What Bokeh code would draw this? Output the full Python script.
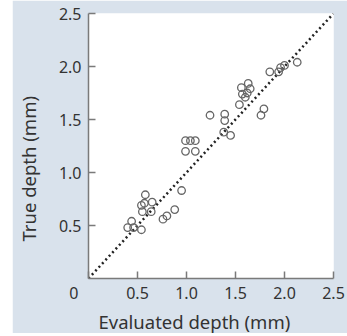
from bokeh.plotting import figure
from bokeh.layouts import row
from bokeh.models import Range1d, FixedTicker, CustomJSTickFormatter, Title, Spacer
from bokeh.embed import file_html
from bokeh.resources import INLINE

# Data (evaluated depth vs true depth, mm)
evaluated = [0.40, 0.44, 0.46, 0.54, 0.54, 0.55, 0.57, 0.58, 0.64, 0.65,
             0.76, 0.80, 0.88, 0.95,
             0.99, 1.04, 1.09, 0.99, 1.09,
             1.24, 1.39, 1.39, 1.38, 1.45,
             1.54, 1.56, 1.57, 1.60, 1.62, 1.63, 1.65,
             1.76, 1.79,
             1.85, 1.94, 1.96, 2.00, 2.13]
true_depth = [0.48, 0.54, 0.48, 0.46, 0.69, 0.63, 0.71, 0.79, 0.63, 0.72,
              0.56, 0.59, 0.65, 0.83,
              1.30, 1.30, 1.30, 1.20, 1.20,
              1.54, 1.55, 1.49, 1.38, 1.35,
              1.64, 1.80, 1.74, 1.71, 1.75, 1.84, 1.79,
              1.54, 1.60,
              1.95, 1.95, 1.99, 2.01, 2.04]
line_x = [0.0, 2.5]
line_y = [0.0, 2.5]
x_ticks = [0.0, 0.5, 1.0, 1.5, 2.0, 2.5]
y_ticks = [0.5, 1.0, 1.5, 2.0, 2.5]
x_label = "Evaluated depth (mm)"
y_label = "True depth (mm)"

FONT = "Noto Sans"
TXT = "#333333"
BG = "#d9e2ec"

p = figure(width=335, height=333, output_backend="svg", toolbar_location=None,
           x_range=Range1d(0, 2.5), y_range=Range1d(0, 2.5),
           min_border_left=73, min_border_right=14, min_border_top=13, min_border_bottom=55)
p.border_fill_color = BG
p.background_fill_color = "white"
p.outline_line_color = None
p.xgrid.visible = False
p.ygrid.visible = False

fmt = CustomJSTickFormatter(
    code="return tick == 0 ? '0' + '\\u00a0'.repeat(7) : tick.toFixed(1);")
for ax, ticks in ((p.xaxis[0], x_ticks), (p.yaxis[0], y_ticks)):
    ax.ticker = FixedTicker(ticks=ticks)
    ax.formatter = fmt
    ax.minor_tick_line_color = None
    ax.major_tick_in = 7
    ax.major_tick_out = 0
    ax.axis_line_color = "#7a7a7a"
    ax.axis_line_width = 1.5
    ax.major_tick_line_color = "#7a7a7a"
    ax.major_tick_line_width = 1.5
    ax.major_label_text_font = FONT
    ax.major_label_text_font_size = "16px"
    ax.major_label_text_color = TXT

p.xaxis[0].major_label_standoff = 3
p.yaxis[0].major_label_standoff = 7
# invisible spacer label to push the y title outward
p.yaxis[0].axis_label = " "
p.yaxis[0].axis_label_text_font_size = "1px"
p.yaxis[0].axis_label_standoff = 8

p.line(line_x, line_y, line_color="#222222", line_width=2.5, line_dash="2 3")
p.scatter(evaluated, true_depth, marker="circle", size=7.5, fill_color=None,
          line_color="#666666", line_width=1.3)

p.add_layout(Title(text=x_label, align="left", offset=10, vertical_align="bottom",
                   standoff=0, text_font=FONT, text_font_size="18.5px",
                   text_font_style="normal", text_color=TXT), "below")
p.add_layout(Title(text=y_label, align="left", offset=37, vertical_align="middle",
                   standoff=4, text_font=FONT, text_font_size="18.5px",
                   text_font_style="normal", text_color=TXT), "left")

layout = row(Spacer(width=12, height=333), p)
open("out.html", "w").write(file_html(layout, INLINE))
